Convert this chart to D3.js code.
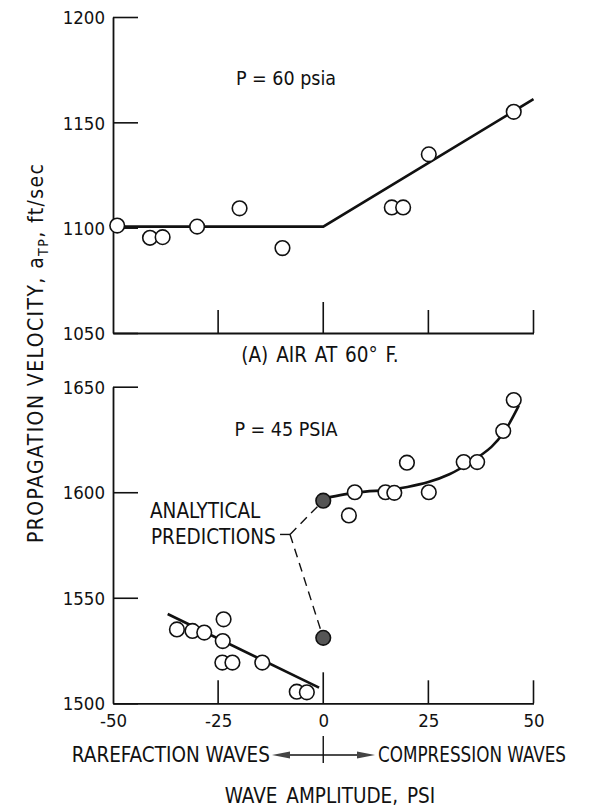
<!DOCTYPE html>
<html><head><meta charset="utf-8">
<script src="https://cdn.jsdelivr.net/npm/d3@7"></script>
<style>
html,body{margin:0;padding:0;background:#fff;}
svg text{font-family:"DejaVu Sans Condensed","Liberation Sans Narrow",sans-serif;fill:#111;}
</style></head>
<body><svg id="c" width="590" height="812"></svg>
<script>
// ---- data ----
const xTicks = [-50, -25, 0, 25, 50];
const topYTicks = [1050, 1100, 1150, 1200];
const botYTicks = [1500, 1550, 1600, 1650];

// (A) air at 60 F, P = 60 psia : measured points
const topX = [-49, -41.2, -38.2, -30, -19.9, -9.7, 16.3, 19.0, 25.1, 45.3];
const topY = [1101, 1095.2, 1095.5, 1100.5, 1109.2, 1090.3, 1109.6, 1109.6, 1134.8, 1155];
// fitted line
const topFitX = [-49, 0, 50];
const topFitY = [1100.5, 1100.5, 1161];

// P = 45 psia : measured points
const botX = [7.5, 6.1, 14.8, 16.9, 19.9, 25.1, 33.4, 36.6, 42.8, 45.3,
              -34.8, -31.1, -28.3, -23.7, -23.9, -24.0, -21.6, -14.5, -6.3, -3.9];
const botY = [1600, 1589, 1600, 1599.7, 1614, 1600, 1614.3, 1614.3, 1629, 1643.7,
              1535, 1534.3, 1533.5, 1539.8, 1529.5, 1519.3, 1519.3, 1519.3, 1505.5, 1505.2];
// fitted curves
const lowFitX = [-37, -1];
const lowFitY = [1542.3, 1507.4];
const upFitX = [0, 5, 10, 15, 20, 25, 30, 35, 40, 43, 46.5];
const upFitY = [1597, 1599, 1600.3, 1601, 1602.5, 1604.8, 1608.5, 1614.2, 1621.5, 1628.5, 1641];
// analytical predictions
const predX = [0, 0];
const predY = [1596, 1531];
const leaderX = -7.9, leaderY = 1580;

// ---- layout ----
const svg = d3.select("#c");
const x = d3.scaleLinear().domain([-50, 50]).range([113, 533.5]);
const yT = d3.scaleLinear().domain([1050, 1200]).range([333, 17]);
const yB = d3.scaleLinear().domain([1500, 1650]).range([703.3, 386.7]);
const TFS = 18.5;   // tick labels
const LFS = 20.5;   // captions
const fmt = d => String(d).replace("\u2212", "-");

function panel(y, yTicks, showXLabels) {
  const g = svg.append("g");
  const ay = g.append("g").attr("transform", `translate(${x(-50)},0)`)
    .call(d3.axisLeft(y).tickValues(yTicks).tickSize(-25).tickSizeOuter(0).tickPadding(8).tickFormat(fmt));
  ay.selectAll("line").attr("stroke", "#111").attr("stroke-width", 1.6);
  ay.select(".domain").attr("stroke", "#111").attr("stroke-width", 1.8);
  ay.selectAll("text").attr("font-size", TFS).attr("font-family", null).attr("dy", "0.36em");
  const ax = g.append("g").attr("transform", `translate(0,${y.range()[0]})`)
    .call(d3.axisBottom(x).tickValues(xTicks).tickSize(0).tickSizeOuter(0).tickPadding(showXLabels ? 10 : 0)
      .tickFormat(showXLabels ? fmt : () => ""));
  ax.select(".domain").attr("stroke", "#111").attr("stroke-width", 1.8);
  ax.selectAll("text").attr("font-size", TFS).attr("font-family", null).attr("dy", "0.72em");
  g.selectAll(".xt").data(xTicks.filter(d => d !== -50)).enter().append("line")
    .attr("x1", d => x(d)).attr("x2", d => x(d))
    .attr("y1", y.range()[0]).attr("y2", d => y.range()[0] - (d === 0 ? 31 : 23))
    .attr("stroke", "#111").attr("stroke-width", 1.6);
  return g;
}

const line = (sx, sy, curve) => d3.line().x((d, i) => x(sx[i])).y((d, i) => sy(d)).curve(curve || d3.curveLinear);

// ---- top panel ----
panel(yT, topYTicks, false);
svg.append("path").datum(topFitY).attr("d", line(topFitX, yT))
  .attr("fill", "none").attr("stroke", "#111").attr("stroke-width", 2.6);
svg.append("g").selectAll("circle").data(topX).enter().append("circle")
  .attr("cx", d => x(d)).attr("cy", (d, i) => yT(topY[i])).attr("r", 7.3)
  .attr("fill", "#fff").attr("stroke", "#111").attr("stroke-width", 1.6);
svg.append("text").attr("x", 286).attr("y", 85).attr("text-anchor", "middle").attr("font-size", 19.5).text("P = 60 psia");
svg.append("text").attr("x", 320).attr("y", 362).attr("text-anchor", "middle").attr("font-size", LFS)
  .attr("word-spacing", 2).text("(A) AIR AT 60° F.");

// ---- bottom panel ----
panel(yB, botYTicks, true);
svg.append("path").datum(lowFitY).attr("d", line(lowFitX, yB))
  .attr("fill", "none").attr("stroke", "#111").attr("stroke-width", 2.6);
svg.append("path").datum(upFitY).attr("d", line(upFitX, yB, d3.curveCatmullRom))
  .attr("fill", "none").attr("stroke", "#111").attr("stroke-width", 2.6);
predY.forEach(v => {
  svg.append("line").attr("x1", x(leaderX)).attr("y1", yB(leaderY)).attr("x2", x(0)).attr("y2", yB(v))
    .attr("stroke", "#111").attr("stroke-width", 1.4).attr("stroke-dasharray", "9,6");
});
svg.append("line").attr("x1", x(leaderX) - 10).attr("x2", x(leaderX)).attr("y1", yB(leaderY)).attr("y2", yB(leaderY))
  .attr("stroke", "#111").attr("stroke-width", 1.4);
svg.append("g").selectAll("circle").data(botX).enter().append("circle")
  .attr("cx", d => x(d)).attr("cy", (d, i) => yB(botY[i])).attr("r", 7.3)
  .attr("fill", "#fff").attr("stroke", "#111").attr("stroke-width", 1.6);
svg.append("g").selectAll("circle").data(predX).enter().append("circle")
  .attr("cx", d => x(d)).attr("cy", (d, i) => yB(predY[i])).attr("r", 7.3)
  .attr("fill", "#555").attr("stroke", "#111").attr("stroke-width", 1.6);
svg.append("text").attr("x", 286).attr("y", 436).attr("text-anchor", "middle").attr("font-size", 19.5).text("P = 45 PSIA");
svg.append("text").attr("x", 150).attr("y", 518).attr("font-size", LFS).text("ANALYTICAL");
svg.append("text").attr("x", 151).attr("y", 544).attr("font-size", LFS).text("PREDICTIONS");

// ---- axis titles ----
const yl = svg.append("text").attr("x", 0).attr("y", 0).attr("text-anchor", "start").attr("font-size", 21)
  .attr("letter-spacing", 1.4)
  .attr("transform", "translate(43,543) rotate(-90)");
yl.append("tspan").text("PROPAGATION VELOCITY, a");
yl.append("tspan").attr("font-size", 14).attr("dy", 5).text("TP");
yl.append("tspan").attr("dy", -5).text(",  ft/sec");

svg.append("text").attr("x", 270).attr("y", 762).attr("text-anchor", "end").attr("font-size", LFS).text("RAREFACTION WAVES");
svg.append("text").attr("x", 378).attr("y", 762).attr("text-anchor", "start").attr("font-size", LFS)
  .attr("textLength", 188).attr("lengthAdjust", "spacingAndGlyphs").text("COMPRESSION WAVES");
svg.append("line").attr("x1", 285).attr("x2", 360).attr("y1", 755).attr("y2", 755).attr("stroke", "#111").attr("stroke-width", 1.4);
svg.append("line").attr("x1", x(0)).attr("x2", x(0)).attr("y1", 736).attr("y2", 763).attr("stroke", "#111").attr("stroke-width", 1.4);
svg.append("path").attr("d", "M272,755 L290,751.5 L290,758.5 Z").attr("fill", "#444");
svg.append("path").attr("d", "M375,755 L357,751.5 L357,758.5 Z").attr("fill", "#444");
svg.append("text").attr("x", 330).attr("y", 803).attr("text-anchor", "middle").attr("font-size", LFS)
  .attr("word-spacing", 3).text("WAVE AMPLITUDE,  PSI");
</script></body></html>
